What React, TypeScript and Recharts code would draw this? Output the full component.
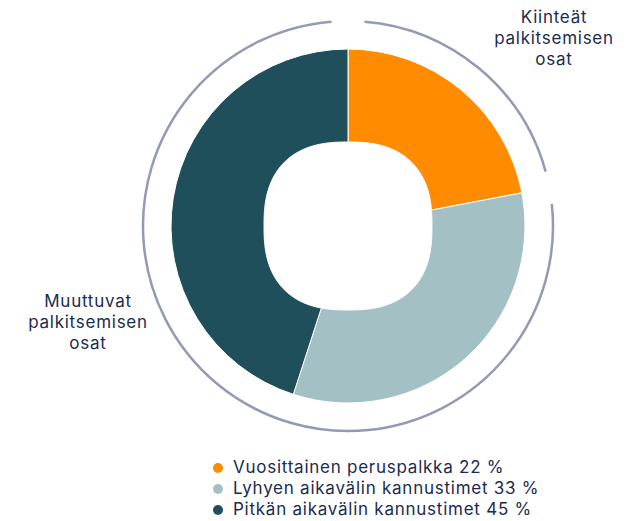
import React from 'react';
import { PieChart, Pie, Cell, Legend } from 'recharts';

const categories = ['Vuosittainen peruspalkka', 'Lyhyen aikavälin kannustimet', 'Pitkän aikavälin kannustimet'];
const values = [22, 33, 45];
const sliceColors = ['#FF8C00', '#A3C1C4', '#1F4F5A'];

const groupNames = ['Kiinteät palkitsemisen osat', 'Muuttuvat palkitsemisen osat'];
const groupValues = [22, 78];
const groupLabelLines = [
  ['Kiinteät', 'palkitsemisen', 'osat'],
  ['Muuttuvat', 'palkitsemisen', 'osat'],
];

const TEXT = '#1B2B4F';
const ARC = '#9599B6';
const FONT = 'Inter, "Noto Sans", sans-serif';
const FONT_SIZE = 17;
const LETTER = 0.75;

const CX = 348;
const CY = 226;
const OUTER_R = 177;
const HOLE_A = 84;
const HOLE_N = 2.5;
const RING_R = 205;
const GAP_DEG = 4.6;

const sliceData = categories.map((name, i) => ({ name, value: values[i] }));
const groupData = groupNames.map((name, i) => ({ name, value: groupValues[i] }));

const RAD = Math.PI / 180;
const pt = (cx: number, cy: number, r: number, deg: number) => [cx + r * Math.cos(deg * RAD), cy - r * Math.sin(deg * RAD)];
const holeR = (deg: number) => {
  const c = Math.abs(Math.cos(deg * RAD));
  const s = Math.abs(Math.sin(deg * RAD));
  return HOLE_A / Math.pow(Math.pow(c, HOLE_N) + Math.pow(s, HOLE_N), 1 / HOLE_N);
};

const SquircleSector = (props: any) => {
  const { cx, cy, outerRadius, startAngle, endAngle, fill } = props;
  const [x0, y0] = pt(cx, cy, outerRadius, startAngle);
  const [x1, y1] = pt(cx, cy, outerRadius, endAngle);
  const large = Math.abs(startAngle - endAngle) > 180 ? 1 : 0;
  const sweep = startAngle > endAngle ? 1 : 0;
  let d = `M${x0},${y0} A${outerRadius},${outerRadius} 0 ${large} ${sweep} ${x1},${y1}`;
  const steps = Math.max(2, Math.ceil(Math.abs(startAngle - endAngle)));
  for (let k = 0; k <= steps; k++) {
    const a = endAngle + ((startAngle - endAngle) * k) / steps;
    const [x, y] = pt(cx, cy, holeR(a), a);
    d += ` L${x},${y}`;
  }
  d += ' Z';
  return <path d={d} fill={fill} stroke="#fff" strokeWidth={1} />;
};

const totalGroup = groupValues.reduce((a, b) => a + b, 0);
const groupAngles = groupValues.map((v, i) => {
  const before = groupValues.slice(0, i).reduce((a, b) => a + b, 0);
  return { start: 90 - (before / totalGroup) * 360, end: 90 - ((before + v) / totalGroup) * 360 };
});

const RingArc = (props: any) => {
  const { cx, cy, outerRadius, index } = props;
  const ang = groupAngles[index];
  const s = ang.start - GAP_DEG;
  const e = ang.end + GAP_DEG;
  const [x0, y0] = pt(cx, cy, outerRadius, s);
  const [x1, y1] = pt(cx, cy, outerRadius, e);
  const large = Math.abs(s - e) > 180 ? 1 : 0;
  return (
    <path
      d={`M${x0},${y0} A${outerRadius},${outerRadius} 0 ${large} 1 ${x1},${y1}`}
      fill="none"
      stroke={ARC}
      strokeWidth={2.5}
    />
  );
};

const labelOffsets = [
  { dx: 206, dy: -203 },
  { dx: -260, dy: 81 },
];

const GroupLabel = (props: any) => {
  const { cx, cy, index } = props;
  const off = labelOffsets[index];
  return (
    <text
      x={cx + off.dx}
      y={cy + off.dy}
      textAnchor="middle"
      fill={TEXT}
      fontFamily={FONT}
      fontSize={FONT_SIZE}
      letterSpacing={LETTER}
    >
      {groupLabelLines[index].map((line, j) => (
        <tspan key={j} x={cx + off.dx} dy={j === 0 ? 0 : 21}>
          {line}
        </tspan>
      ))}
    </text>
  );
};

const LegendContent = () => (
  <div style={{ fontFamily: FONT, fontSize: FONT_SIZE, letterSpacing: LETTER, color: TEXT }}>
    {categories.map((c, i) => (
      <div key={c} style={{ display: 'flex', alignItems: 'center', height: 21, lineHeight: '21px', whiteSpace: 'nowrap' }}>
        <span
          style={{
            display: 'inline-block',
            width: 10,
            height: 10,
            borderRadius: 5,
            background: sliceColors[i],
            marginRight: 10,
          }}
        />
        <span>{`${c} ${values[i]} %`}</span>
      </div>
    ))}
  </div>
);

export default function App() {
  return (
    <div style={{ position: 'absolute', left: 0, top: 0, width: 639, height: 521, background: '#fff' }}>
      <PieChart width={639} height={521} margin={{ top: 0, right: 0, bottom: 0, left: 0 }}>
        <Pie
          data={groupData}
          dataKey="value"
          cx={CX}
          cy={CY}
          innerRadius={RING_R - 1}
          outerRadius={RING_R}
          startAngle={90}
          endAngle={-270}
          shape={RingArc}
          label={GroupLabel}
          labelLine={false}
          isAnimationActive={false}
        />
        <Pie
          data={sliceData}
          dataKey="value"
          cx={CX}
          cy={CY}
          innerRadius={HOLE_A}
          outerRadius={OUTER_R}
          startAngle={90}
          endAngle={-270}
          shape={SquircleSector}
          isAnimationActive={false}
        >
          {sliceData.map((d, i) => (
            <Cell key={d.name} fill={sliceColors[i]} />
          ))}
        </Pie>
        <Legend
          content={LegendContent}
          wrapperStyle={{ position: 'absolute', left: 213, top: 457, width: 'auto', bottom: 'auto' }}
        />
      </PieChart>
    </div>
  );
}
